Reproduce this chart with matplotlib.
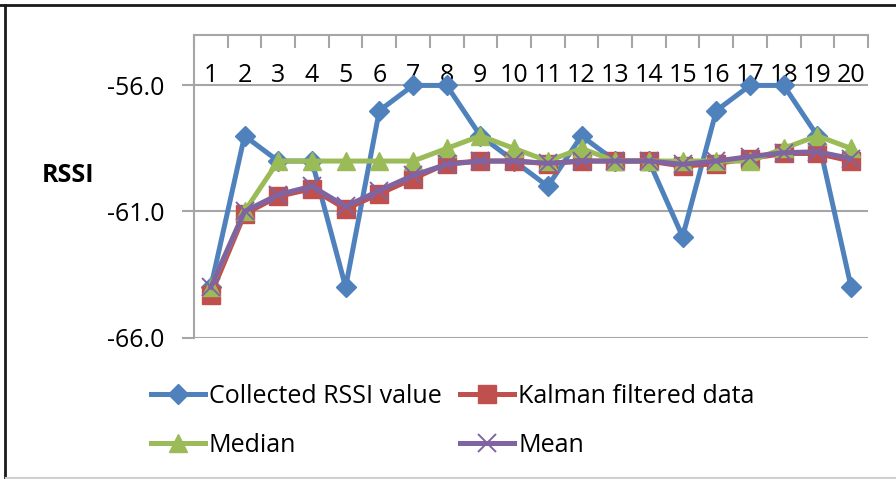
import matplotlib.pyplot as plt
from matplotlib.lines import Line2D

plt.rcParams['font.family'] = ['Open Sans', 'DejaVu Sans']

#DATA
samples = list(range(1, 21))
collected = [-64, -58, -59, -59, -64, -57, -56, -56, -58, -59,
             -60, -58, -59, -59, -62, -57, -56, -56, -58, -64]
kalman = [-64.3, -61.1, -60.4, -60.1, -60.9, -60.3, -59.7, -59.1, -59.0, -59.0,
          -59.1, -59.0, -59.0, -59.0, -59.2, -59.1, -58.9, -58.7, -58.7, -59.0]
median = [-64, -61, -59, -59, -59, -59, -59, -58.5, -58, -58.5,
          -59, -58.5, -59, -59, -59, -59, -59, -58.5, -58, -58.5]
mean = [-64.0, -61.0, -60.33, -60.0, -60.8, -60.17, -59.57, -59.13, -59.0, -59.0,
        -59.09, -59.0, -59.0, -59.0, -59.13, -59.0, -58.82, -58.67, -58.63, -58.9]
y_ticks = [-66, -61, -56]

#COLORS
blue = "#4F81BD"
red = "#C0504D"
green = "#9BBB59"
purple = "#8064A2"
gray = "#A6A6A6"

FS = 18

fig = plt.figure(figsize=(8.96, 4.79), dpi=100)
ax = fig.add_axes([0.2165, 0.2954, 0.7522, 0.6315])

h1, = ax.plot(samples, collected, color=blue, lw=3.6, marker='D', ms=10,
              mec=blue, label="Collected RSSI value", zorder=3)
h2, = ax.plot(samples, kalman, color=red, lw=3.6, marker='s', ms=13,
              mec=red, label="Kalman filtered data", zorder=4)
h3, = ax.plot(samples, median, color=green, lw=3.6, marker='^', ms=13,
              mec=green, label="Median", zorder=5)
h4, = ax.plot(samples, mean, color=purple, lw=3.6, marker='x', ms=13,
              mew=1.4, label="Mean", zorder=6)

#AXES
ax.set_xlim(0.5, 20.5)
ax.set_ylim(-66, -54)
ax.set_yticks(y_ticks)
ax.set_yticklabels(["%.1f" % v for v in y_ticks], fontsize=FS)
ax.tick_params(axis='y', length=9, width=1.5, color=gray, pad=12)
ax.yaxis.grid(True, color=gray, lw=1.5)
ax.set_axisbelow(True)

ax.xaxis.tick_top()
ax.set_xticks([i + 0.5 for i in range(0, 21)])
ax.set_xticklabels([])
ax.tick_params(axis='x', which='major', direction='in', length=9, width=1.5, color=gray)
ax.set_xticks(samples, minor=True)
ax.set_xticklabels([str(s) for s in samples], minor=True, fontsize=FS)
ax.tick_params(axis='x', which='minor', length=0, pad=-38)

for side in ['right', 'bottom']:
    ax.spines[side].set_visible(False)
for side in ['left', 'top']:
    ax.spines[side].set_color(gray)
    ax.spines[side].set_linewidth(1.5)

ax.set_ylabel("RSSI", rotation=0, fontsize=FS, fontweight='bold')
ax.yaxis.set_label_coords(-0.187, 0.494)

#LEGEND
fig.legend([h1, h3, h2, h4],
           ["Collected RSSI value", "Median", "Kalman filtered data", "Mean"],
           ncol=2, loc='upper left', bbox_to_anchor=(0.168, 0.198),
           frameon=False, fontsize=FS, handlelength=2.16, handletextpad=0.16,
           columnspacing=0.76, borderaxespad=0, borderpad=0, labelspacing=0.96)

#FRAME
fig.add_artist(Line2D([0, 1], [1 - 4.5 / 479, 1 - 4.5 / 479], color="#1A1A1A", lw=2))
fig.add_artist(Line2D([4.5 / 896, 4.5 / 896], [0, 1 - 4.5 / 479], color="#1A1A1A", lw=2))
fig.add_artist(Line2D([6 / 896, 1], [1.5 / 479, 1.5 / 479], color="#D0D0D0", lw=1.5))

plt.savefig("out.png", dpi=100)
